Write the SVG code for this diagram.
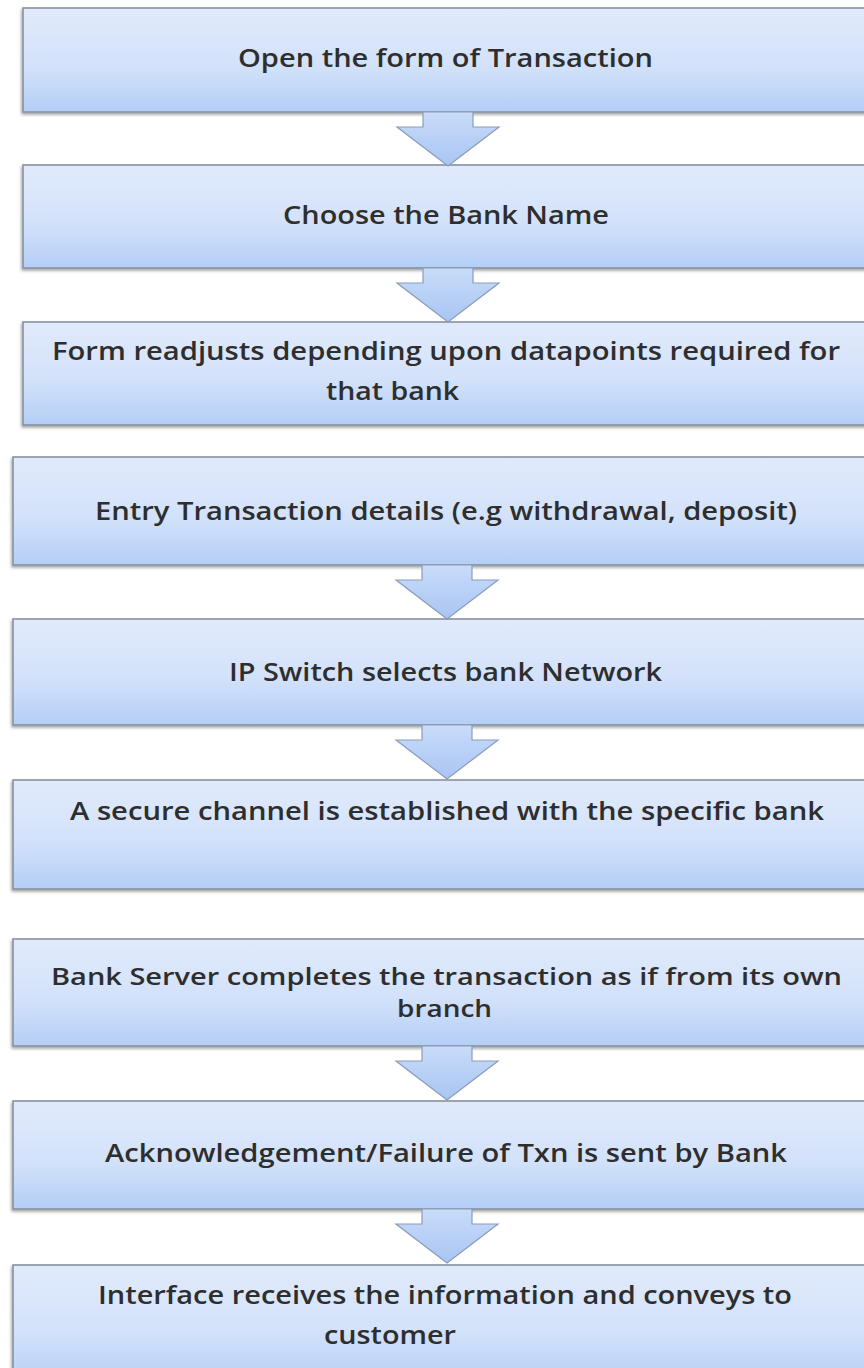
<svg xmlns="http://www.w3.org/2000/svg" width="864" height="1368" viewBox="0 0 864 1368">
<defs>
<linearGradient id="boxg" x1="0" y1="0" x2="0" y2="1">
<stop offset="0" stop-color="#e1eafb"/>
<stop offset="0.55" stop-color="#d3e2fa"/>
<stop offset="1" stop-color="#b4cef6"/>
</linearGradient>
<linearGradient id="arrg" x1="0" y1="0" x2="0" y2="1">
<stop offset="0" stop-color="#c9dcf9"/>
<stop offset="1" stop-color="#a9c5f3"/>
</linearGradient>
<filter id="sh" x="-5%" y="-10%" width="110%" height="130%">
<feGaussianBlur in="SourceAlpha" stdDeviation="1.5"/>
<feOffset dx="-1" dy="2" result="b"/>
<feComponentTransfer><feFuncA type="linear" slope="0.35"/></feComponentTransfer>
<feMerge><feMergeNode/><feMergeNode in="SourceGraphic"/></feMerge>
</filter>
<path id="arrow" d="M-25,0 L25,0 L25,15 L51,15 L0,54 L-51,15 L-25,15 Z"/>
</defs>
<style>
.box{fill:url(#boxg);stroke:#8892a0;stroke-width:1.6;filter:url(#sh);}
.t{font-family:"Open Sans","Noto Sans",sans-serif;font-size:25px;font-weight:600;fill:#2e2e2e;text-anchor:middle;}
.s{font-size:23px;}
.arr{fill:url(#arrg);stroke:#8b9cb8;stroke-width:1.2;stroke-linejoin:miter;}
</style>
<rect width="864" height="1368" fill="#ffffff"/>
<g id="n1"><rect class="box" x="23" y="8" width="850" height="104"/><text class="t" x="445.5" y="67" textLength="415" lengthAdjust="spacingAndGlyphs">Open the form of Transaction</text></g>
<g id="n2"><rect class="box" x="23" y="165" width="850" height="103"/><text class="t" x="446" y="224" textLength="326" lengthAdjust="spacingAndGlyphs">Choose the Bank Name</text></g>
<g id="n3"><rect class="box" x="23" y="322" width="850" height="103"/><text class="t" x="446" y="360" textLength="788" lengthAdjust="spacingAndGlyphs">Form  readjusts depending upon  datapoints required  for</text><text class="t" x="392.5" y="400" textLength="133" lengthAdjust="spacingAndGlyphs">that bank</text></g>
<g id="n4"><rect class="box" x="13" y="457" width="860" height="108"/><text class="t" x="446" y="520" textLength="702" lengthAdjust="spacingAndGlyphs">Entry  Transaction details (e.g withdrawal, deposit)</text></g>
<g id="n5"><rect class="box" x="13" y="619" width="860" height="106"/><text class="t" x="445.5" y="681" textLength="433" lengthAdjust="spacingAndGlyphs">IP Switch selects bank Network</text></g>
<g id="n6"><rect class="box" x="13" y="780" width="860" height="109"/><text class="t" x="447" y="820" textLength="754" lengthAdjust="spacingAndGlyphs">A secure channel is established with the  specific bank</text></g>
<g id="n7"><rect class="box" x="13" y="939" width="860" height="107"/><text class="t s" x="446.5" y="985" textLength="791" lengthAdjust="spacingAndGlyphs">Bank Server  completes the transaction as if from its own</text><text class="t s" x="444.5" y="1017" textLength="95" lengthAdjust="spacingAndGlyphs">branch</text></g>
<g id="n8"><rect class="box" x="13" y="1101" width="860" height="108"/><text class="t" x="446" y="1162" textLength="682" lengthAdjust="spacingAndGlyphs">Acknowledgement/Failure  of Txn is sent by Bank</text></g>
<g id="n9"><rect class="box" x="13" y="1265" width="860" height="120"/><text class="t" x="445" y="1304" textLength="694" lengthAdjust="spacingAndGlyphs">Interface receives the information and conveys to</text><text class="t" x="390" y="1344" textLength="132" lengthAdjust="spacingAndGlyphs">customer</text></g>
<g id="connectors">
<use href="#arrow" class="arr" x="448" y="112"/>
<use href="#arrow" class="arr" x="448" y="268"/>
<use href="#arrow" class="arr" x="447" y="565"/>
<use href="#arrow" class="arr" x="447" y="725"/>
<use href="#arrow" class="arr" x="447" y="1046"/>
<use href="#arrow" class="arr" x="447" y="1209"/>
</g>
</svg>
